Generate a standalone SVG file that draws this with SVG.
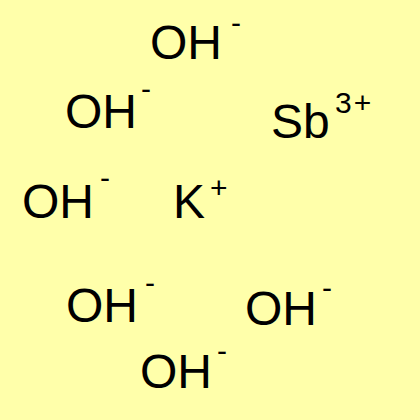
<svg xmlns="http://www.w3.org/2000/svg" width="420" height="420" viewBox="0 0 420 420">
<style>
.m{font-family:"Liberation Sans",Arial,sans-serif;font-size:48px;fill:#000}
.s{font-family:"Liberation Sans",Arial,sans-serif;font-size:30px;fill:#000}
</style>
<rect width="420" height="420" fill="#FFFFAA"/>
<g id="oh1"><text class="m" x="150" y="59">OH</text><text class="s" x="231" y="33">-</text></g>
<g id="oh2"><text class="m" x="65" y="128">OH</text><text class="s" x="141" y="99">-</text></g>
<g id="sb"><text class="m" x="271" y="138">Sb</text><text class="s" x="335" y="113" letter-spacing="2">3+</text></g>
<g id="oh3"><text class="m" x="22" y="218">OH</text><text class="s" x="100" y="188">-</text></g>
<g id="k"><text class="m" x="173" y="218">K</text><text class="s" x="210" y="198" font-size="28">+</text></g>
<g id="oh4"><text class="m" x="66" y="322">OH</text><text class="s" x="145" y="293">-</text></g>
<g id="oh5"><text class="m" x="245" y="325">OH</text><text class="s" x="322" y="298">-</text></g>
<g id="oh6"><text class="m" x="140" y="388">OH</text><text class="s" x="217" y="361">-</text></g>
</svg>
